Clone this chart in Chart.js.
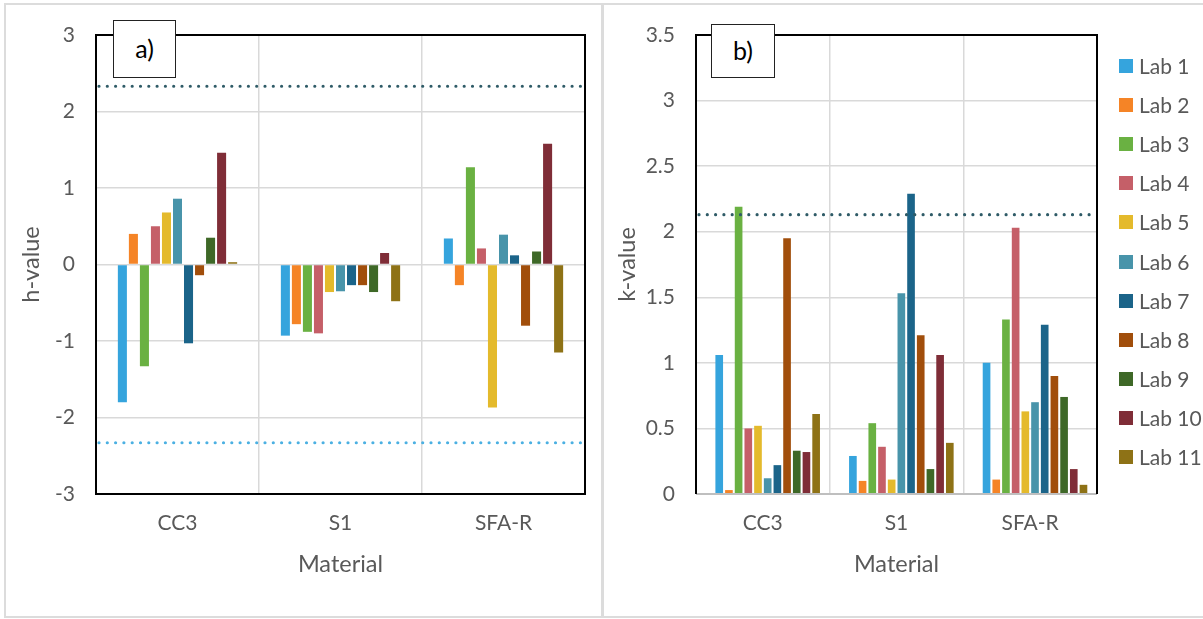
<!DOCTYPE html>
<html>
<head>
<meta charset="utf-8">
<script src="https://cdn.jsdelivr.net/npm/chart.js@4.4.1/dist/chart.umd.min.js"></script>
<style>
	body { margin: 0; background: #fff; font-family: Lato, sans-serif; }
	.panel { position: absolute; top: 3px; height: 615px; box-sizing: border-box; border: 2px solid #dcdcdc; }
	#panelA { left: 4px; width: 599px; }
	#panelB { left: 602px; width: 603px; }
	canvas { position: absolute; top: 5px; }
	#chartA { left: 6px; }
	#chartB { left: 606px; }
	.tag { position: absolute; box-sizing: border-box; border: 1.5px solid #222; background: #fff;
		font-size: 25px; color: #000; text-align: center; }
	#tagA { left: 113px; top: 20px; width: 63px; height: 58px; line-height: 55px; }
	#tagB { left: 711px; top: 24px; width: 64px; height: 54px; line-height: 51px; }
	#legend { position: absolute; left: 1119px; top: 0; }
	.item { position: absolute; left: 0; height: 26px; white-space: nowrap; color: #595959; font-size: 21px; line-height: 26px; }
	.item span.box { position: absolute; left: 0; top: 6px; width: 14px; height: 14px; }
	.item span.txt { position: absolute; left: 20px; top: 0; }
</style>
</head>
<body>
<div class="panel" id="panelA"></div>
<div class="panel" id="panelB"></div>
<canvas id="chartA" width="595" height="610"></canvas>
<canvas id="chartB" width="597" height="610"></canvas>
<div class="tag" id="tagA">a)</div>
<div class="tag" id="tagB">b)</div>
<div id="legend"></div>
<script>
// categories and series
const materials = ['CC3', 'S1', 'SFA-R'];
const labs = ['Lab 1', 'Lab 2', 'Lab 3', 'Lab 4', 'Lab 5', 'Lab 6', 'Lab 7', 'Lab 8', 'Lab 9', 'Lab 10', 'Lab 11'];
const labColors = ['#35a4dd', '#f58426', '#6ab142', '#c55f68', '#e4ba2c', '#4894aa',
	'#1b6489', '#a14e0b', '#3e6827', '#7f2d37', '#8e7216'];

// h-values, one entry per lab
const hCC3 = [-1.80, 0.40, -1.33, 0.50, 0.68, 0.86, -1.03, -0.14, 0.35, 1.46, 0.03];
const hS1 = [-0.93, -0.78, -0.88, -0.90, -0.36, -0.35, -0.27, -0.27, -0.36, 0.15, -0.48];
const hSFAR = [0.34, -0.27, 1.27, 0.21, -1.87, 0.39, 0.12, -0.80, 0.17, 1.58, -1.15];

// k-values, one entry per lab
const kCC3 = [1.06, 0.03, 2.19, 0.50, 0.52, 0.12, 0.22, 1.95, 0.33, 0.32, 0.61];
const kS1 = [0.29, 0.10, 0.54, 0.36, 0.11, 1.53, 2.29, 1.21, 0.19, 1.06, 0.39];
const kSFAR = [1.00, 0.11, 1.33, 2.03, 0.63, 0.70, 1.29, 0.90, 0.74, 0.19, 0.07];

// critical lines
const hCrit = 2.33;
const kCrit = 2.13;

const hTicks = [-3, -2, -1, 0, 1, 2, 3];
const kTicks = [0, 0.5, 1, 1.5, 2, 2.5, 3, 3.5];

Chart.defaults.font.family = 'Lato';
Chart.defaults.color = '#595959';

const gridColor = '#d9d9d9';

// dotted limits + plot frame
const frame = {
	id: 'frame',
	afterDatasetsDraw(chart, args, opts) {
		const ctx = chart.ctx;
		const a = chart.chartArea;
		const y = chart.scales.y;
		ctx.save();
		ctx.lineCap = 'round';
		ctx.lineWidth = 3.2;
		ctx.setLineDash([0, 8.3]);
		opts.limits.forEach(l => {
			const py = y.getPixelForValue(l.value);
			ctx.strokeStyle = l.color;
			ctx.beginPath();
			ctx.moveTo(a.left + 3, py);
			ctx.lineTo(a.right, py);
			ctx.stroke();
		});
		ctx.setLineDash([]);
		ctx.lineCap = 'butt';
		ctx.lineWidth = 2;
		if (opts.grayBottom) {
			ctx.strokeStyle = '#bfbfbf';
			ctx.beginPath();
			ctx.moveTo(a.left, a.bottom);
			ctx.lineTo(a.right, a.bottom);
			ctx.stroke();
			ctx.strokeStyle = '#000';
			ctx.beginPath();
			ctx.moveTo(a.left, a.bottom);
			ctx.lineTo(a.left, a.top);
			ctx.lineTo(a.right, a.top);
			ctx.lineTo(a.right, a.bottom);
			ctx.stroke();
		} else {
			ctx.strokeStyle = '#000';
			ctx.strokeRect(a.left, a.top, a.right - a.left, a.bottom - a.top);
		}
		ctx.restore();
	}
};

function labDatasets(rows) {
	return labs.map((lab, i) => ({
		label: lab,
		data: rows.map(r => r[i]),
		backgroundColor: labColors[i],
		borderWidth: 0
	}));
}

function scalesFor(yTicks, yTitle, titlePad) {
	return {
		x: {
			grid: { color: gridColor, lineWidth: 1.5, drawTicks: false, offset: true },
			border: { display: false },
			ticks: { padding: 17, font: { size: 21 } },
			title: { display: true, text: 'Material', font: { size: 23.5 }, padding: { top: 0, bottom: 36 } },
			afterFit: s => { s.height = 121; }
		},
		y: {
			min: yTicks[0],
			max: yTicks[yTicks.length - 1],
			afterBuildTicks: s => { s.ticks = yTicks.map(v => ({ value: v })); },
			grid: { color: gridColor, lineWidth: 1.5, drawTicks: false },
			border: { display: false },
			ticks: { padding: 21, font: { size: 21 }, callback: v => String(v) },
			title: { display: true, text: yTitle, font: { size: 23.5 }, padding: { top: titlePad, bottom: 0 } },
			afterFit: s => {
				s.width = 90;
				// let the layout padding alone decide where the plot top sits
				s.paddingTop = 0;
				s.paddingBottom = 0;
			}
		}
	};
}

new Chart(document.getElementById('chartA'), {
	type: 'bar',
	data: {
		labels: materials,
		datasets: labDatasets([hCC3, hS1, hSFAR])
	},
	options: {
		responsive: false,
		animation: false,
		categoryPercentage: 0.744,
		barPercentage: 0.82,
		layout: { padding: { top: 30, right: 16, left: 0, bottom: 0 } },
		scales: scalesFor(hTicks, 'h-value', 11),
		plugins: {
			legend: { display: false },
			tooltip: { enabled: false },
			frame: { limits: [{ value: hCrit, color: '#2f5b67' }, { value: -hCrit, color: '#4bb0e2' }] }
		}
	},
	plugins: [frame]
});

// the k chart has one empty slot ahead of Lab 1 in each group
const kSets = labDatasets([kCC3, kS1, kSFAR]);
kSets.unshift({ label: '', data: materials.map(() => null), backgroundColor: 'rgba(0,0,0,0)' });

new Chart(document.getElementById('chartB'), {
	type: 'bar',
	data: {
		labels: materials,
		datasets: kSets
	},
	options: {
		responsive: false,
		animation: false,
		categoryPercentage: 0.87,
		barPercentage: 0.79,
		layout: { padding: { top: 30, right: 106, left: 0, bottom: 0 } },
		scales: scalesFor(kTicks, 'k-value', 7),
		plugins: {
			legend: { display: false },
			tooltip: { enabled: false },
			frame: { limits: [{ value: kCrit, color: '#2f5b67' }], grayBottom: true }
		}
	},
	plugins: [frame]
});

// legend for the k chart
const legendBox = document.getElementById('legend');
labs.forEach((lab, i) => {
	const item = document.createElement('div');
	item.className = 'item';
	item.style.top = (66 + i * 39.1 - 13) + 'px';
	const box = document.createElement('span');
	box.className = 'box';
	box.style.background = labColors[i];
	const txt = document.createElement('span');
	txt.className = 'txt';
	txt.textContent = lab;
	item.appendChild(box);
	item.appendChild(txt);
	legendBox.appendChild(item);
});
</script>
</body>
</html>
